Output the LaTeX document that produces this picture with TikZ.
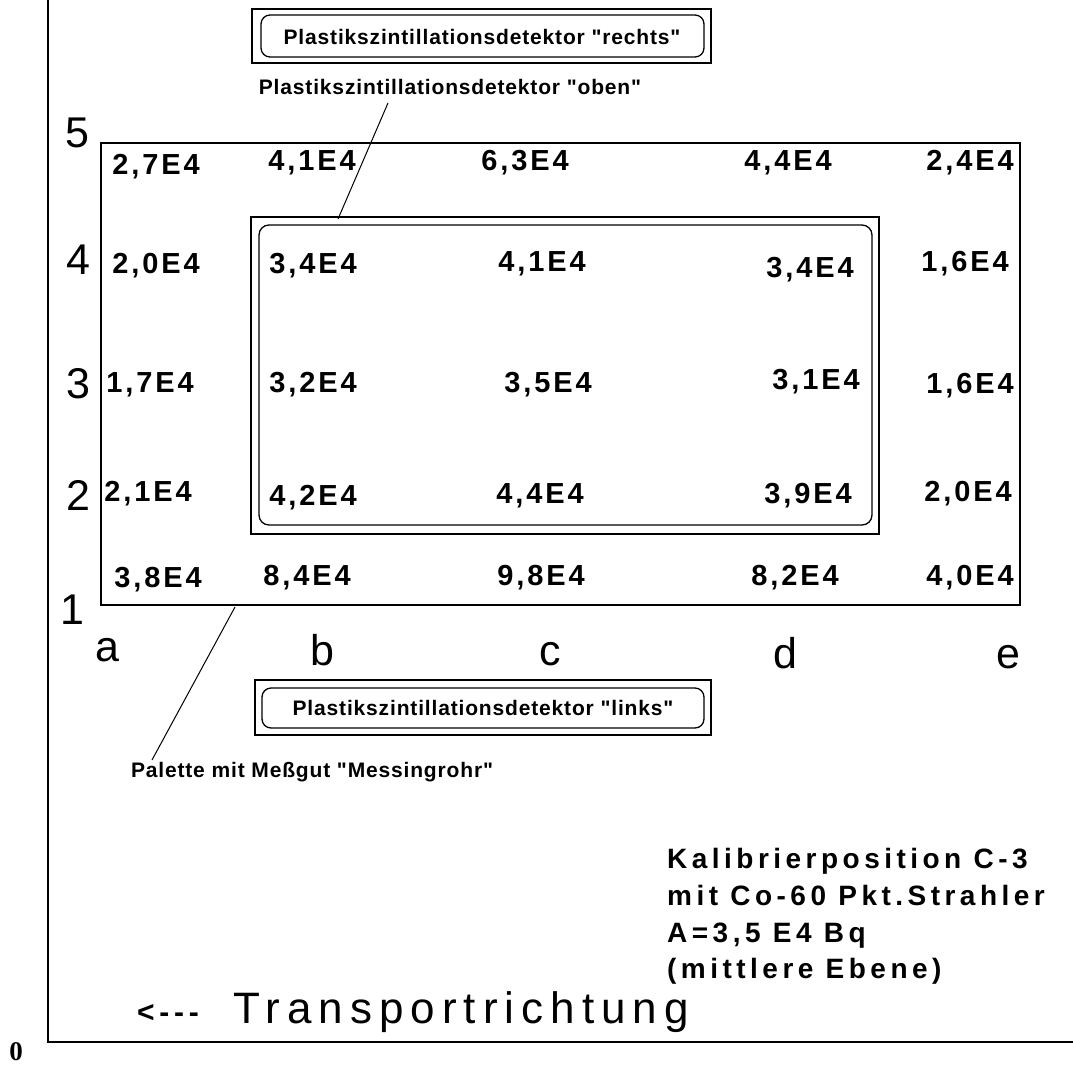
\documentclass[tikz,border=0pt]{standalone}
\usepackage{fontspec}
\setmainfont{Liberation Sans}
\newfontfamily\valfam[LetterSpace=10]{Liberation Sans}
\newfontfamily\labfam[LetterSpace=4]{Liberation Sans}
\newfontfamily\calfam[LetterSpace=16,WordSpace=1.4]{Liberation Sans}
\newfontfamily\trafam[LetterSpace=16,Ligatures=NoCommon]{Liberation Sans}
\newfontfamily\axfam{Liberation Sans}
\newfontfamily\zerofam{Liberation Serif}

\tikzset{
  frame/.style={line width=1.3pt, draw=black},
  axisline/.style={line width=1.8pt, draw=black},
  leader/.style={line width=1pt, draw=black},
  val/.style={inner sep=0pt, font={\valfam\bfseries\fontsize{29}{32}\selectfont}},
  detlab/.style={inner sep=0pt, font={\labfam\bfseries\fontsize{21}{24}\selectfont}},
  cal/.style={inner sep=0pt, anchor=base west, font={\calfam\bfseries\fontsize{28}{31}\selectfont}},
  axlab/.style={inner sep=0pt, font={\axfam\fontsize{43}{46}\selectfont}},
}

\begin{document}
\begin{tikzpicture}[x=1pt, y=-1pt]
\useasboundingbox (0,0) rectangle (1073,1068);

% coordinate axes
\draw[axisline] (48,0) -- (48,1042) -- (1073,1042);
\node[inner sep=0pt, font={\zerofam\bfseries\fontsize{27}{29}\selectfont}] (zero) at (16,1052) {0};

% detector "rechts"
\draw[frame] (252,9) rectangle (711,63);
\draw[frame, rounded corners=9pt] (261,15) rectangle (704,57);
\node[detlab] (rechts) at (482,37) {Plastikszintillationsdetektor "rechts"};

% detector "oben" label
\node[detlab] (oben) at (450,87) {Plastikszintillationsdetektor "oben"};

% pallet outline
\draw[frame] (101,143) rectangle (1020,605);

% detector "oben" outline
\draw[frame] (251,217) rectangle (879,534);
\draw[frame, rounded corners=10pt] (259,225) rectangle (872,525);

% detector "links"
\draw[frame] (255,680) rectangle (711,735);
\draw[frame, rounded corners=9pt] (262,688) rectangle (704,728);
\node[detlab] (links) at (483,708) {Plastikszintillationsdetektor "links"};

% pallet label
\node[detlab] (palette) at (312,772) {Palette mit Meßgut "Messingrohr"};

% leader lines
\coordinate (obenfoot) at (388,103);
\coordinate (obentip) at (338,219);
\draw[leader] (obenfoot) -- (obentip);
\coordinate (paltip) at (235,607);
\coordinate (palfoot) at (152,760);
\draw[leader] (paltip) -- (palfoot);

% row numbers
\node[axlab] (r5) at (77,133) {5};
\node[axlab] (r4) at (78,260) {4};
\node[axlab] (r3) at (78,384) {3};
\node[axlab] (r2) at (78,495) {2};
\node[axlab] (r1) at (72,610) {1};

% column letters
\node[axlab, anchor=base] (ca) at (107,661) {a};
\node[axlab, anchor=base] (cb) at (322,665) {b};
\node[axlab, anchor=base] (cc) at (550,665) {c};
\node[axlab, anchor=base] (cd) at (785,668) {d};
\node[axlab, anchor=base] (ce) at (1008,668) {e};

% measured values, row 5
\node[val] (a5) at (156,167) {2,7E4};
\node[val] (b5) at (312,163) {4,1E4};
\node[val] (c5) at (525,163) {6,3E4};
\node[val] (d5) at (788,163) {4,4E4};
\node[val] (e5) at (970,163) {2,4E4};
% row 4
\node[val] (a4) at (156,266) {2,0E4};
\node[val] (b4) at (313,266) {3,4E4};
\node[val] (c4) at (542,264) {4,1E4};
\node[val] (d4) at (810,270) {3,4E4};
\node[val] (e4) at (965,264) {1,6E4};
% row 3
\node[val] (a3) at (150,385) {1,7E4};
\node[val] (b3) at (313,385) {3,2E4};
\node[val] (c3) at (548,385) {3,5E4};
\node[val] (d3) at (816,382) {3,1E4};
\node[val] (e3) at (970,386) {1,6E4};
% row 2
\node[val] (a2) at (148,494) {2,1E4};
\node[val] (b2) at (313,498) {4,2E4};
\node[val] (c2) at (540,496) {4,4E4};
\node[val] (d2) at (808,496) {3,9E4};
\node[val] (e2) at (968,494) {2,0E4};
% row 1
\node[val] (a1) at (158,580) {3,8E4};
\node[val] (b1) at (307,578) {8,4E4};
\node[val] (c1) at (541,578) {9,8E4};
\node[val] (d1) at (795,578) {8,2E4};
\node[val] (e1) at (970,578) {4,0E4};

% calibration note
\node[cal] (cal1) at (667,868) {Kalibrierposition C-3};
\node[cal] (cal2) at (667,905) {mit Co-60 Pkt.Strahler};
\node[cal] (cal3) at (667,942) {A=3,5 E4 Bq};
\node[cal] (cal4) at (667,978) {(mittlere Ebene)};

% transport direction
\node[inner sep=0pt, font={\trafam\bfseries\fontsize{30}{32}\selectfont}] (arrowtxt) at (168,1013) {<{}-{}-{}-};
\node[inner sep=0pt, font={\trafam\fontsize{44}{48}\selectfont}] (transport) at (461,1012) {Transportrichtung};
\end{tikzpicture}
\end{document}
